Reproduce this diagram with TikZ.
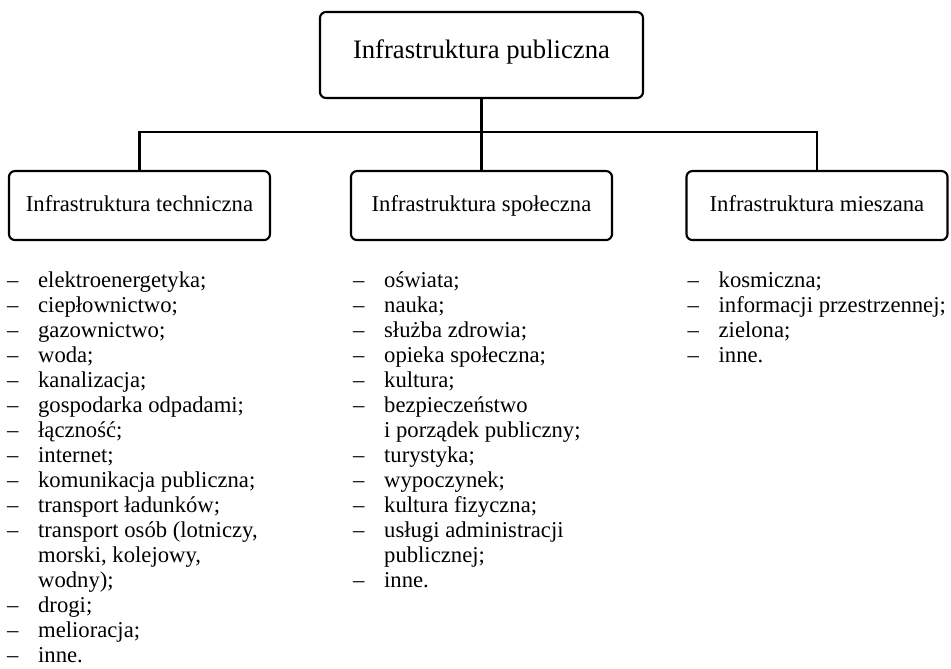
\documentclass[tikz,border=0pt]{standalone}
\usepackage{fontspec}
\setmainfont{Liberation Serif}
\usetikzlibrary{positioning}

\tikzset{
  box/.style={draw, rounded corners=4.5pt, line width=1.6pt,
    minimum width=195.75pt, minimum height=51.75pt,
    text height=1.1em, text depth=0.22em,
    font=\fontsize{17}{20}\selectfont},
  topbox/.style={box, minimum width=242.25pt, minimum height=64.5pt,
    text height=0.75em, text depth=0.25em,
    font=\fontsize{20}{24}\selectfont},
  items/.style={on grid=false, align=left, inner sep=0pt,
    font=\fontsize{17}{18.75}\selectfont},
  link/.style={line width=1.6pt}
}
\newcommand{\itm}[1]{\makebox[23.25pt][l]{--}#1}
\newcommand{\cnt}[1]{\hspace*{23.25pt}#1}

\begin{document}
\begin{tikzpicture}[node distance=112.9pt, on grid]
  \useasboundingbox (-361.1pt,41.25pt) rectangle (352.1pt,-459.75pt);

  \node[topbox] (pub) {Infrastruktura publiczna};
  \node[box] (tech) [below left=112.9pt and 256.5pt of pub] {Infrastruktura techniczna};
  \node[box] (soc) [below=of pub] {Infrastruktura społeczna};
  \node[box] (mix) [below right=112.9pt and 251.6pt of pub] {Infrastruktura mieszana};
  \coordinate[below=57.75pt of pub] (bus);

  \draw[link] (pub.south) -- (soc.north);
  \draw[link] (tech.north) |- (bus) -| (mix.north);

  % lists under the boxes
  \node[items, below right=22.5pt and -0.75pt of tech.south west] (techlist) {%
    \itm{elektroenergetyka;}\\
    \itm{ciepłownictwo;}\\
    \itm{gazownictwo;}\\
    \itm{woda;}\\
    \itm{kanalizacja;}\\
    \itm{gospodarka odpadami;}\\
    \itm{łączność;}\\
    \itm{internet;}\\
    \itm{komunikacja publiczna;}\\
    \itm{transport ładunków;}\\
    \itm{transport osób (lotniczy,}\\
    \cnt{morski, kolejowy,}\\
    \cnt{wodny);}\\
    \itm{drogi;}\\
    \itm{melioracja;}\\
    \itm{inne.}};
  \node[items, below right=22.5pt and 2.25pt of soc.south west] (soclist) {%
    \itm{oświata;}\\
    \itm{nauka;}\\
    \itm{służba zdrowia;}\\
    \itm{opieka społeczna;}\\
    \itm{kultura;}\\
    \itm{bezpieczeństwo}\\
    \cnt{i porządek publiczny;}\\
    \itm{turystyka;}\\
    \itm{wypoczynek;}\\
    \itm{kultura fizyczna;}\\
    \itm{usługi administracji}\\
    \cnt{publicznej;}\\
    \itm{inne.}};
  \node[items, below right=22.5pt and 1.5pt of mix.south west] (mixlist) {%
    \itm{kosmiczna;}\\
    \itm{informacji przestrzennej;}\\
    \itm{zielona;}\\
    \itm{inne.}};
\end{tikzpicture}
\end{document}
